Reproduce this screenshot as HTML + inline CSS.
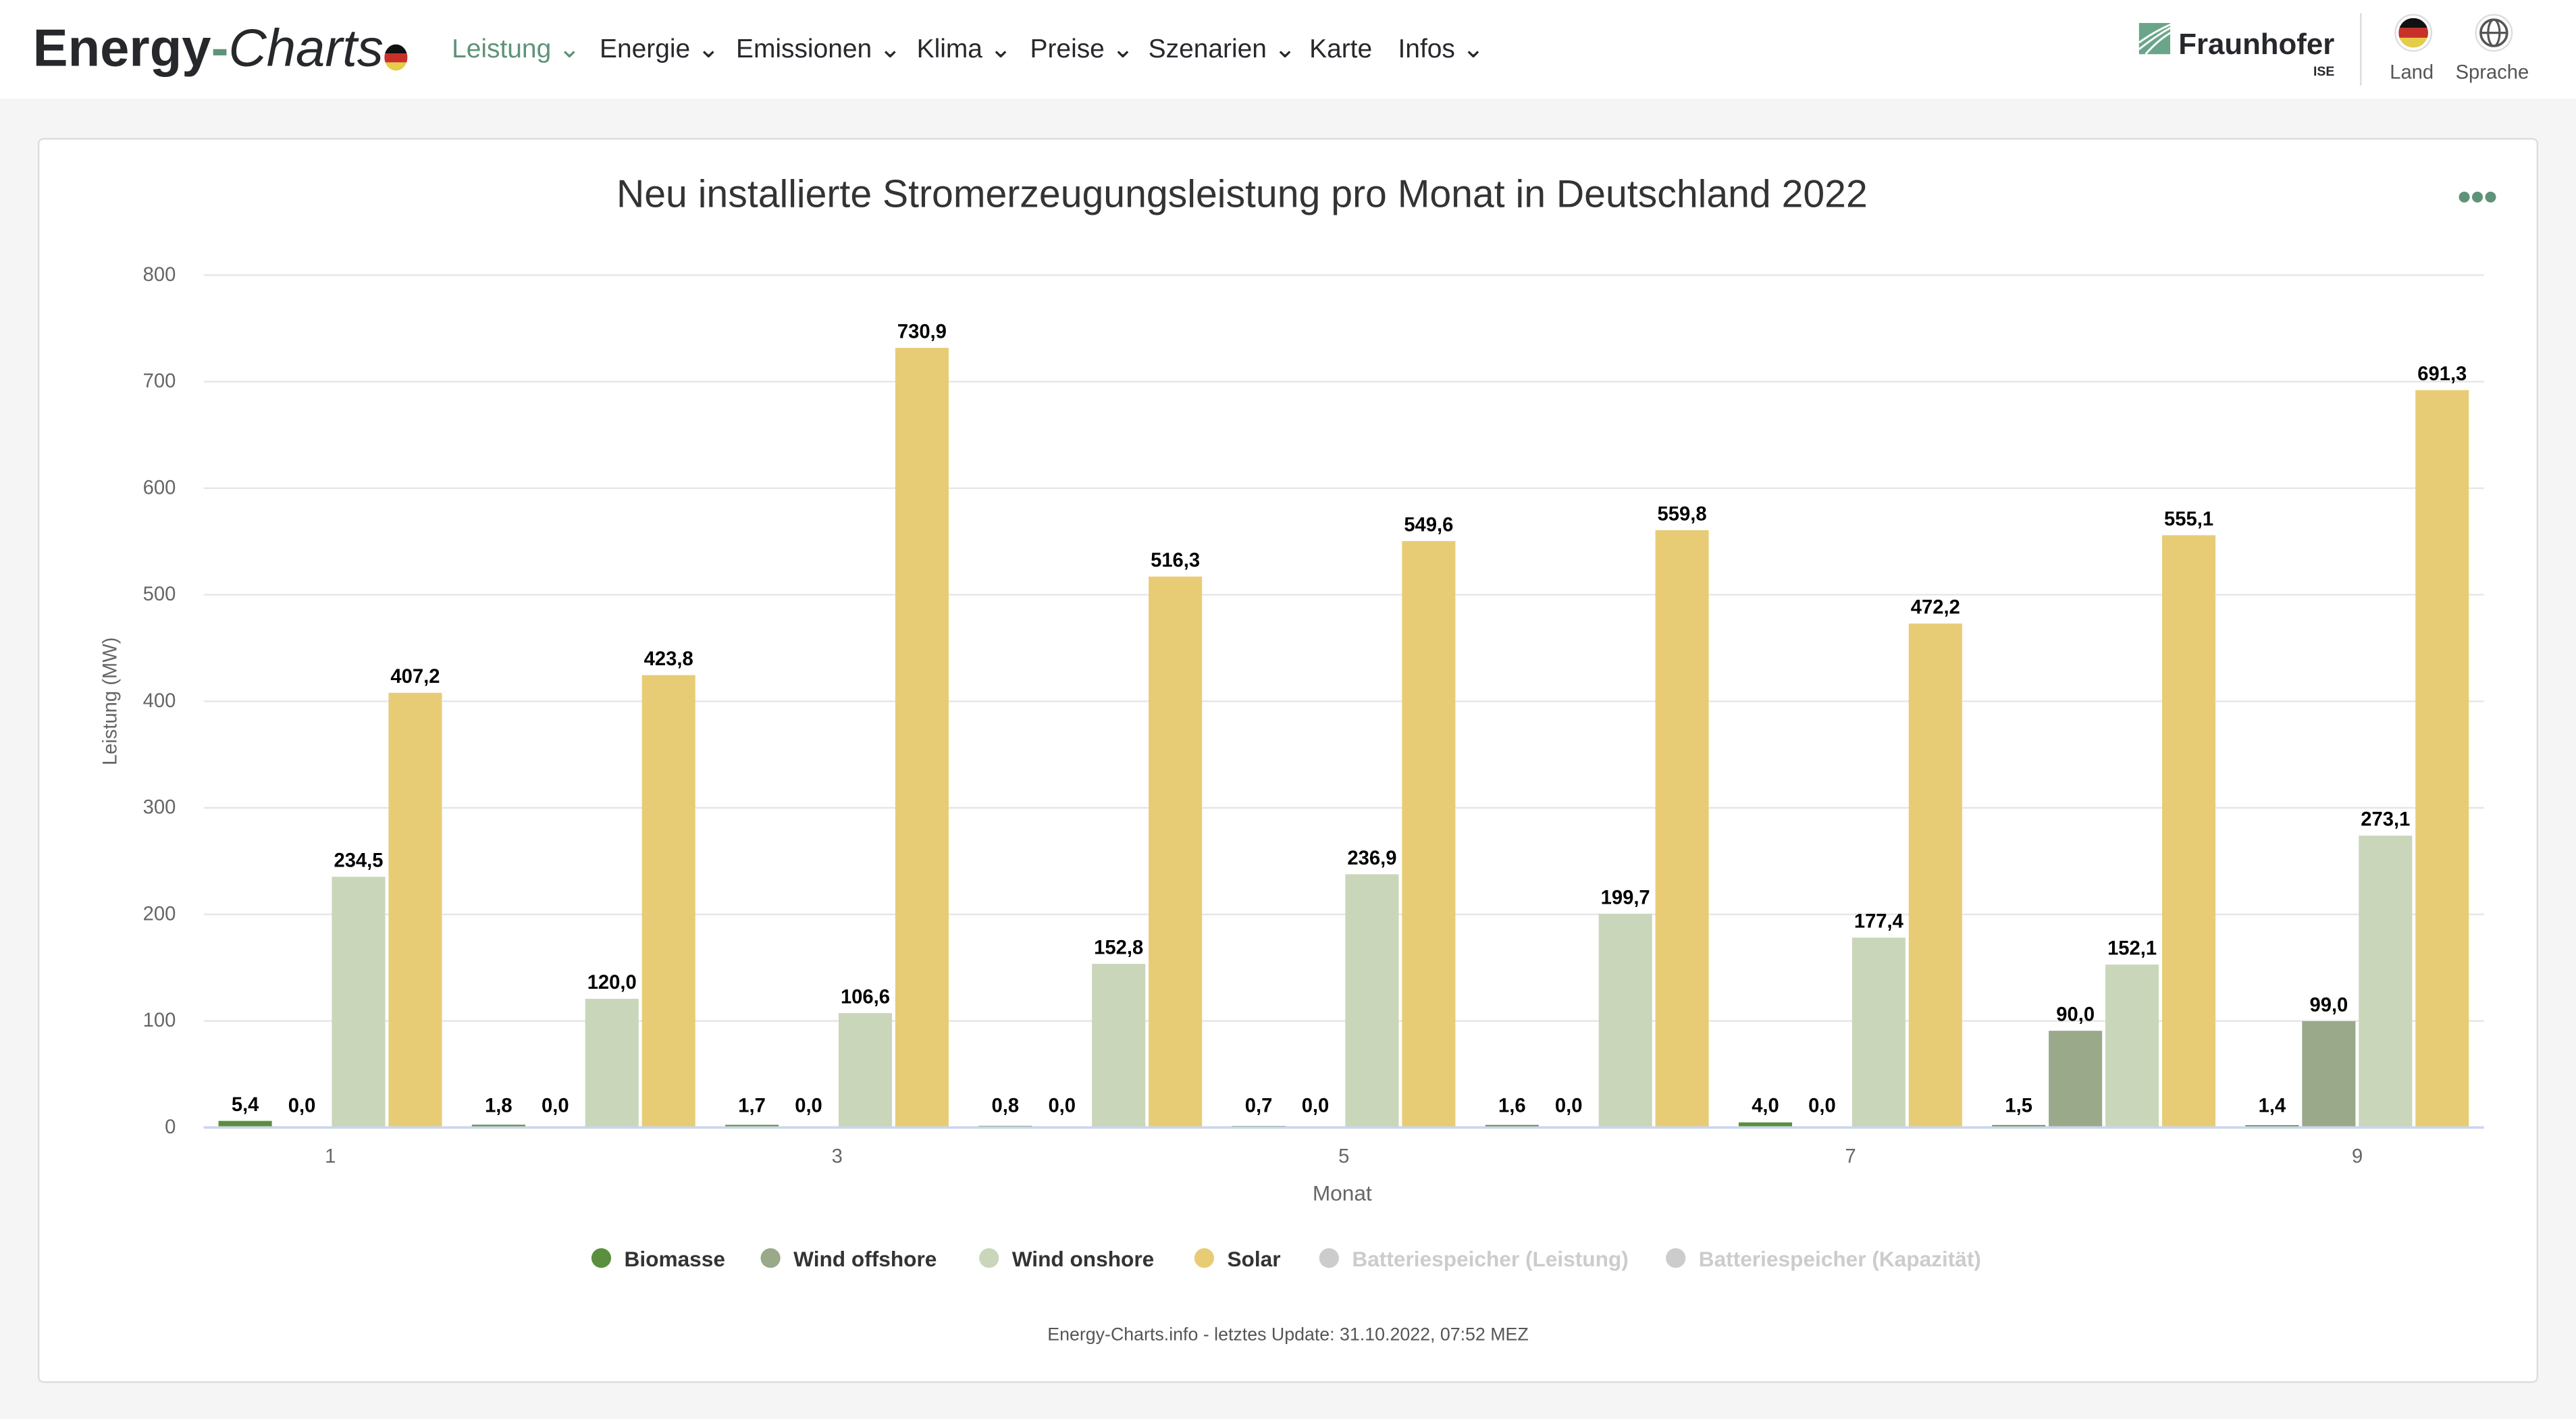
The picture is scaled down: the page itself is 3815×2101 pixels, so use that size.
<!DOCTYPE html>
<html><head><meta charset="utf-8">
<style>
html,body{margin:0;padding:0;background:#f5f5f6;}
svg{display:block;font-family:"Liberation Sans","DejaVu Sans",sans-serif;}
</style></head>
<body>
<svg id="root" width="3815" height="2101" viewBox="0 0 1568 864" preserveAspectRatio="none">
  <rect x="0" y="0" width="1568" height="864" fill="#f5f5f6"/>
  <rect x="0" y="0" width="1568" height="60" fill="#ffffff"/>
  <g>
    <text x="20" y="40" font-size="32" font-weight="bold" fill="#26282c">Energy<tspan fill="#5f9379">-</tspan><tspan font-weight="normal" font-style="italic">Charts</tspan></text>
    <clipPath id="flagc"><ellipse cx="241" cy="35" rx="7" ry="8"/></clipPath>
    <g clip-path="url(#flagc)"><rect x="233" y="27" width="16" height="5.5" fill="#111"/><rect x="233" y="32.5" width="16" height="5.5" fill="#c8312a"/><rect x="233" y="38" width="16" height="6" fill="#e6cc4a"/></g>
  </g>
  <g font-size="16" fill="#26282c">
    <text x="275" y="35" fill="#5f9379">Leistung ⌄</text>
    <text x="365" y="35">Energie ⌄</text>
    <text x="448" y="35">Emissionen ⌄</text>
    <text x="558" y="35">Klima ⌄</text>
    <text x="627" y="35">Preise ⌄</text>
    <text x="699" y="35">Szenarien ⌄</text>
    <text x="797" y="35">Karte</text>
    <text x="851" y="35">Infos ⌄</text>
  </g>
  <g>
    <rect x="1302" y="14" width="19" height="19" fill="#6aa58a"/>
    <path d="M1302 30 Q1312 22 1321 17 M1302 26 Q1310 20 1321 15 M1306 33 Q1313 25 1321 20" stroke="#fff" stroke-width="1.2" fill="none"/>
    <text x="1326" y="33" font-size="18" font-weight="bold" fill="#26282c">Fraunhofer</text>
    <text x="1421" y="46" font-size="8" font-weight="bold" fill="#26282c" text-anchor="end">ISE</text>
  </g>
  <line x1="1437" y1="8" x2="1437" y2="52" stroke="#ddd" stroke-width="1"/>
  <g>
    <circle cx="1469" cy="20" r="11" fill="#fff" stroke="#ddd"/>
    <clipPath id="flag2"><circle cx="1469" cy="20" r="9"/></clipPath>
    <g clip-path="url(#flag2)"><rect x="1460" y="11" width="18" height="6" fill="#111"/><rect x="1460" y="17" width="18" height="6" fill="#c8312a"/><rect x="1460" y="23" width="18" height="7" fill="#e6cc4a"/></g>
    <text x="1468" y="48" font-size="12" fill="#555" text-anchor="middle">Land</text>
  </g>
  <g>
    <circle cx="1518" cy="20" r="11" fill="#fff" stroke="#ddd"/>
    <circle cx="1518" cy="20" r="8" fill="none" stroke="#555" stroke-width="1.5"/>
    <ellipse cx="1518" cy="20" rx="3.5" ry="8" fill="none" stroke="#555" stroke-width="1.3"/>
    <line x1="1510" y1="20" x2="1526" y2="20" stroke="#555" stroke-width="1.3"/>
    <text x="1517" y="48" font-size="12" fill="#555" text-anchor="middle">Sprache</text>
  </g>
  <rect x="23.5" y="84.5" width="1521" height="757" rx="3" fill="#fff" stroke="#ddd"/>
  <text x="756" y="126" font-size="23.5" fill="#333" text-anchor="middle">Neu installierte Stromerzeugungsleistung pro Monat in Deutschland 2022</text>
  <g fill="#5f9379"><circle cx="1500" cy="120" r="3.3"/><circle cx="1508" cy="120" r="3.3"/><circle cx="1516" cy="120" r="3.3"/></g>
  <g id="grid"></g>
  <g id="yticks" font-size="12" fill="#666" text-anchor="end"></g>
  <text transform="translate(71,427) rotate(-90)" font-size="12" fill="#666" text-anchor="middle">Leistung (MW)</text>
  <g id="bars"></g>
  <g id="labels" font-size="12" font-weight="bold" fill="#000" text-anchor="middle"></g>
  <line x1="124" y1="686.5" x2="1512" y2="686.5" stroke="#ccd6eb" stroke-width="1.5"/>
  <g id="xticks" font-size="12" fill="#666" text-anchor="middle"></g>
  <text x="817" y="731" font-size="13" fill="#666" text-anchor="middle">Monat</text>
  <g id="legend" font-size="13" font-weight="bold"></g>
  <text x="784" y="816" font-size="11" fill="#555" text-anchor="middle">Energy-Charts.info - letztes Update: 31.10.2022, 07:52 MEZ</text>
</svg>
<script>
const months = [1,2,3,4,5,6,7,8,9];
const biomasse = [5.4,1.8,1.7,0.8,0.7,1.6,4.0,1.5,1.4];
const windOffshore = [0,0,0,0,0,0,0,90.0,99.0];
const windOnshore = [234.5,120.0,106.6,152.8,236.9,199.7,177.4,152.1,273.1];
const solar = [407.2,423.8,730.9,516.3,549.6,559.8,472.2,555.1,691.3];
const yTicks = [0,100,200,300,400,500,600,700,800];
const xTickLabels = ["1","3","5","7","9"];
const legendNames = ["Biomasse","Wind offshore","Wind onshore","Solar","Batteriespeicher (Leistung)","Batteriespeicher (Kapazität)"];

const NS="http://www.w3.org/2000/svg";
const X0=124,X1=1512,Y0=686,Y1=167,YMAX=800;
const catW=(X1-X0)/months.length;
function yScale(v){return Y0-(v/YMAX)*(Y0-Y1);}
function catX(i){return X0+i*catW;}
function mk(tag,attrs,parent){const e=document.createElementNS(NS,tag);for(const k in attrs)e.setAttribute(k,attrs[k]);parent.appendChild(e);return e;}
function fmt(v){return v.toFixed(1).replace('.',',');}

const grid=document.getElementById('grid'),yt=document.getElementById('yticks');
yTicks.forEach(t=>{
  const l=mk('line',{x1:X0,x2:X1,y1:yScale(t)+0.5,y2:yScale(t)+0.5,stroke:'#e6e6e6','stroke-width':1},grid);
  
  
  const tx=mk('text',{x:107,y:yScale(t)+4},yt);tx.textContent=t;
  
  
});
const xt=document.getElementById('xticks');
xTickLabels.forEach(lab=>{
  const i=months.indexOf(+lab);
  const tx=mk('text',{x:catX(i)+catW/2,y:708},xt);tx.textContent=lab;
  
  
});
const series=[biomasse,windOffshore,windOnshore,solar];
const colors=['#5a8f3e','#9aa98a','#c9d6ba','#e8cc75'];
const snames=['biomasse','wind-offshore','wind-onshore','solar'];
const bars=document.getElementById('bars'),labels=document.getElementById('labels');
const pitch=34.5,bw=32.5,pad=9;
series.forEach((s,si)=>{
  s.forEach((v,i)=>{
    const x=catX(i)+pad+si*pitch;
    const y=yScale(v);
    const r=mk('rect',{x:x,y:y,width:bw,height:Math.max(0,Y0-y),fill:colors[si]},bars);
    
    
    const t=mk('text',{x:x+bw/2,y:Math.min(y,Y0-3)-6},labels);t.textContent=fmt(v);
    
    
  });
});
const leg=document.getElementById('legend');
const legX=[366,469,602,733,809,1020];
const legCol=['#5a8f3e','#9aa98a','#c9d6ba','#e8cc75','#cccccc','#cccccc'];
legendNames.forEach((n,i)=>{
  const g=mk('g',{},leg);
  
  
  mk('circle',{cx:legX[i],cy:766,r:6,fill:legCol[i]},g);
  const t=mk('text',{x:legX[i]+14,y:771,fill:i<4?'#333':'#ccc'},g);t.textContent=n;
});
</script>
</body></html>
